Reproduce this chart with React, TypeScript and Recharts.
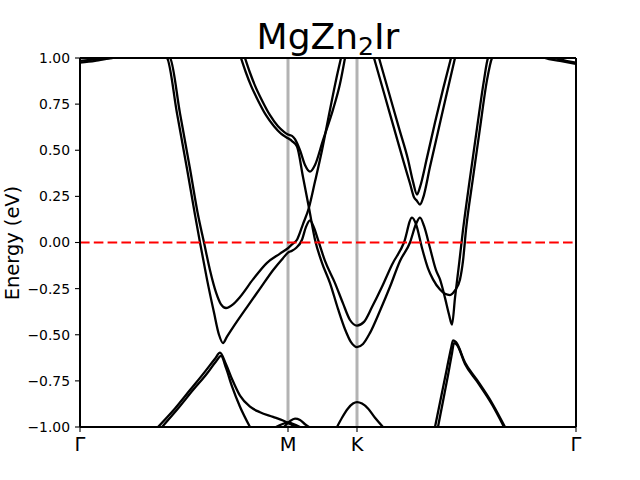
import { LineChart, Line, XAxis, YAxis, ReferenceLine } from "recharts";

// high-symmetry points along the k-path
const kTicks = [0, 208, 277, 496];
const kLabels = ["Γ", "M", "K", "Γ"];
const energyTicks = [-1, -0.75, -0.5, -0.25, 0, 0.25, 0.5, 0.75, 1];

type Pt = [number, number]; // [k, energy eV]

// conduction-side bands
const band1: Pt[] = [
  [165, 1.0], [170, 0.92], [175, 0.85], [182, 0.77], [190, 0.69], [198, 0.63],
  [204, 0.6], [208, 0.585], [212, 0.578], [215, 0.56], [220, 0.5], [225, 0.42],
  [230, 0.384], [235, 0.42], [243, 0.555], [253, 0.72], [260, 0.86], [265, 1.0],
];
const band2: Pt[] = [
  [161, 1.0], [166, 0.92], [171, 0.85], [178, 0.77], [186, 0.69], [194, 0.63],
  [201, 0.59], [208, 0.565], [212, 0.55], [217, 0.52], [223, 0.355], [229, 0.187],
  [235, 0.015], [242, -0.11], [250, -0.22], [258, -0.36], [265, -0.47], [271, -0.54],
  [277, -0.567], [283, -0.55], [290, -0.49], [300, -0.37], [310, -0.24], [320, -0.1],
  [330, 0.0], [336, 0.1], [340, 0.135], [344, 0.09], [350, -0.03], [356, -0.15],
  [360, -0.2], [365, -0.3], [369, -0.39], [372, -0.445], [375, -0.3], [379, -0.12],
  [383, 0.068], [390, 0.35], [397, 0.62], [404, 0.88], [408, 1.0], [420, 1.08],
  [450, 1.08], [475, 1.0], [486, 0.985], [496, 0.975],
];
const band3: Pt[] = [
  [0, 0.984], [15, 0.992], [32, 1.0], [50, 1.05], [70, 1.05], [90, 1.0],
  [100, 0.7], [110, 0.4], [118, 0.15], [124, 0.0], [130, -0.15], [136, -0.27],
  [141, -0.335], [146, -0.355], [153, -0.335], [160, -0.295], [173, -0.2],
  [187, -0.11], [200, -0.06], [208, -0.03], [212, -0.01], [217, 0.015],
  [223, 0.1], [229, 0.19], [235, 0.33], [242, 0.5], [250, 0.72], [256, 0.88], [261, 1.0],
];
const band4: Pt[] = [
  [0, 0.975], [15, 0.985], [30, 1.0], [50, 1.05], [70, 1.05], [87, 1.0],
  [97, 0.7], [107, 0.4], [115, 0.15], [120, 0.0], [127, -0.2], [134, -0.38],
  [139, -0.5], [143, -0.545], [147, -0.51], [153, -0.46], [167, -0.35], [180, -0.25],
  [193, -0.15], [203, -0.085], [208, -0.055], [212, -0.045], [216, -0.03],
  [222, 0.015], [226, 0.085], [230, 0.12], [234, 0.08], [238, 0.015], [245, -0.1],
  [255, -0.22], [263, -0.33], [270, -0.42], [277, -0.45], [284, -0.43], [292, -0.35],
  [302, -0.24], [312, -0.12], [324, 0.0], [332, 0.135], [336, 0.1], [342, -0.03],
  [348, -0.14], [353, -0.2], [360, -0.255], [365, -0.278], [370, -0.285],
  [375, -0.26], [380, -0.2], [383, -0.1], [386, 0.068], [393, 0.35], [400, 0.62],
  [407, 0.88], [412, 1.0], [425, 1.08], [445, 1.08], [465, 1.0], [480, 0.985], [496, 0.968],
];
// pair of nested V bands between K and Γ
const band5: Pt[] = [
  [299, 1.0], [309, 0.81], [319, 0.62], [328, 0.45], [333, 0.33], [337, 0.26],
  [340, 0.3], [347, 0.46], [355, 0.65], [363, 0.83], [371, 1.0],
];
const band6: Pt[] = [
  [294, 1.0], [304, 0.81], [314, 0.62], [324, 0.43], [330, 0.32], [334, 0.245],
  [337, 0.225], [340, 0.205], [343, 0.24], [350, 0.41], [358, 0.6], [366, 0.79], [375, 1.0],
];

// valence-side bands
const band7: Pt[] = [
  [78, -1.0], [95, -0.9], [110, -0.8], [125, -0.7], [135, -0.63], [140, -0.597],
  [146, -0.66], [152, -0.74], [160, -0.83], [170, -0.89], [180, -0.92],
  [193, -0.945], [203, -0.965], [208, -0.978], [216, -1.0],
];
const band8: Pt[] = [
  [82, -1.0], [98, -0.9], [113, -0.8], [127, -0.71], [136, -0.645], [141, -0.615],
  [146, -0.68], [152, -0.78], [160, -0.89], [170, -1.0],
];
const band9: Pt[] = [[196, -1.0], [202, -0.985], [208, -0.975], [214, -0.985], [220, -1.0]];
const band10: Pt[] = [[204, -1.0], [210, -0.968], [215, -0.955], [220, -0.962], [225, -0.985], [229, -1.0]];
const band11: Pt[] = [
  [257, -1.0], [262, -0.95], [268, -0.9], [273, -0.873], [277, -0.865],
  [282, -0.873], [288, -0.9], [295, -0.95], [303, -1.0],
];
const band12: Pt[] = [
  [355, -1.0], [361, -0.84], [367, -0.68], [371, -0.575], [373, -0.53], [376, -0.54],
  [385, -0.65], [397, -0.745], [412, -0.87], [425, -1.0],
];
const band13: Pt[] = [
  [358, -1.0], [363, -0.86], [368, -0.72], [372, -0.6], [374, -0.545], [377, -0.555],
  [385, -0.658], [397, -0.753], [412, -0.878], [424, -1.0],
];

const bands = [
  band1, band2, band3, band4, band5, band6, band7,
  band8, band9, band10, band11, band12, band13,
];

const toPoints = (b: Pt[]) => b.map(([k, e]) => ({ k, e }));
const fmtEnergy = (v: number) => v.toFixed(2).replace("-", "\u2212");

export default function App() {
  return (
    <div
      style={{
        position: "absolute",
        left: 0,
        top: 0,
        width: 640,
        height: 480,
        background: "#fff",
        fontFamily: "DejaVu Sans",
      }}
    >
      {/* title */}
      <div
        style={{
          position: "absolute",
          left: 0,
          width: 656,
          top: 19,
          textAlign: "center",
          fontSize: 36,
          lineHeight: 1,
          color: "#000",
        }}
      >
        MgZn
        <span style={{ fontSize: "0.7em", position: "relative", top: 6 }}>2</span>
        Ir
      </div>

      {/* y label */}
      <div
        style={{
          position: "absolute",
          left: 13,
          top: 242.5,
          transform: "translate(-50%, -50%) rotate(-90deg)",
          whiteSpace: "nowrap",
          fontSize: 19.4,
          lineHeight: 1,
          color: "#000",
        }}
      >
        Energy (eV)
      </div>

      <LineChart width={640} height={480} margin={{ top: 58, right: 64, bottom: 23, left: 20 }}>
        <XAxis
          dataKey="k"
          type="number"
          domain={[0, 496]}
          ticks={kTicks}
          interval={0}
          allowDataOverflow
          tickFormatter={(v) => kLabels[kTicks.indexOf(v)]}
          axisLine={false}
          tickLine={{ stroke: "#000", strokeWidth: 1.1 }}
          tickSize={5}
          tickMargin={5}
          height={30}
          tick={{ fill: "#000", fontSize: 19.4 }}
        />
        <YAxis
          type="number"
          domain={[-1, 1]}
          ticks={energyTicks}
          interval={0}
          allowDataOverflow
          tickFormatter={fmtEnergy}
          axisLine={false}
          tickLine={{ stroke: "#000", strokeWidth: 1.1 }}
          tickSize={5}
          tickMargin={5}
          width={60}
          tick={{ fill: "#000", fontSize: 13.9 }}
        />

        {/* high-symmetry markers */}
        <ReferenceLine x={208} stroke="#b3b3b3" strokeWidth={3} />
        <ReferenceLine x={277} stroke="#b3b3b3" strokeWidth={3} />

        {bands.map((b, i) => (
          <Line
            key={i}
            data={toPoints(b)}
            dataKey="e"
            type="monotone"
            stroke="#000"
            strokeWidth={2.3}
            dot={false}
            activeDot={false}
            isAnimationActive={false}
          />
        ))}

        {/* Fermi level */}
        <ReferenceLine y={0} stroke="#ff0000" strokeWidth={2.2} strokeDasharray="9.6 4.2" />

        {/* frame */}
        <ReferenceLine y={1} stroke="#000" strokeWidth={2} />
        <ReferenceLine y={-1} stroke="#000" strokeWidth={2} />
        <ReferenceLine x={0} stroke="#000" strokeWidth={2} />
        <ReferenceLine x={496} stroke="#000" strokeWidth={2} />
      </LineChart>
    </div>
  );
}
